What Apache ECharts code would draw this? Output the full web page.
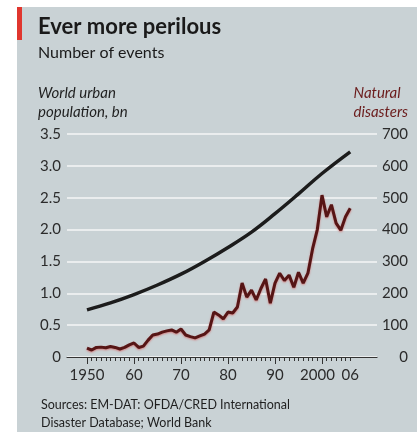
<!DOCTYPE html>
<html>
<head>
<meta charset="utf-8">
<script src="https://cdn.jsdelivr.net/npm/echarts@6/dist/echarts.min.js"></script>
<style>
  html, body { margin: 0; padding: 0; background: #fff; }
  #chart { width: 417px; height: 432px; }
</style>
</head>
<body>
<div id="chart"></div>
<script>
// world urban population, bn
const popYears = [1950, 1955, 1960, 1965, 1970, 1975, 1980, 1985, 1990, 1995, 2000, 2006];
const popValues = [0.74, 0.85, 0.98, 1.13, 1.30, 1.50, 1.72, 1.96, 2.25, 2.56, 2.88, 3.22];

// natural disasters, number of events, one per year 1950-2006
const disasterStart = 1950;
const disasterValues = [
  28, 22, 30, 31, 29, 33, 30, 25, 30, 38,
  44, 30, 34, 53, 69, 72, 78, 82, 85, 78,
  88, 69, 64, 60, 66, 72, 85, 141, 132, 120,
  141, 138, 157, 232, 188, 210, 179, 215, 245, 169,
  232, 263, 240, 257, 219, 266, 232, 263, 340, 400,
  508, 440, 478, 420, 398, 440, 467
];

const tickYears = [];
for (let y = 1950; y <= 2006; y++) tickYears.push(y);
const decadeYears = [1950, 1960, 1970, 1980, 1990, 2000];
const labelYears = [1950, 1960, 1970, 1980, 1990, 2000, 2006];
const yearLabels = ['1950', '60', '70', '80', '90', '2000', '06'];

const font = 'Lato, "Open Sans", sans-serif';
const ink = '#2b2b2b';

const chart = echarts.init(document.getElementById('chart'));

const xMin = 1945.75;
const xMax = 2011.7;

chart.setOption({
  animation: false,
  textStyle: { fontFamily: font },
  graphic: [
    { type: 'rect', shape: { x: 17, y: 7, width: 400, height: 425 }, style: { fill: '#c9d2d5' }, z: -10 },
    { type: 'rect', shape: { x: 17, y: 7, width: 5, height: 33 }, style: { fill: '#e0362e' }, z: -5 },
    { type: 'text', left: 38, top: 16, style: { text: 'Ever more perilous', font: 'bold 22px ' + font, fill: '#1a1a1a' } },
    { type: 'text', left: 38, top: 45, style: { text: 'Number of events', font: '16px ' + font, fill: '#1a1a1a' } },
    { type: 'text', left: 38, top: 84, style: { text: 'World urban\npopulation, bn', font: 'italic 15px ' + font, fill: '#1f1f1f', lineHeight: 19 } },
    { type: 'text', right: 9, top: 84, style: { text: 'Natural\ndisasters', font: 'italic 15px ' + font, fill: '#6b1c1c', lineHeight: 19, align: 'right' } },
    { type: 'text', left: 41, top: 396, style: { text: 'Sources: EM-DAT: OFDA/CRED International\nDisaster Database; World Bank', font: '12.5px ' + font, fill: '#1f1f1f', lineHeight: 18 } }
  ],
  grid: { left: 67, right: 40, top: 134, bottom: 75 },
  xAxis: [
    {
      type: 'value',
      min: xMin,
      max: xMax,
      axisLine: { show: true, onZero: false, lineStyle: { color: '#333', width: 1.2 } },
      axisTick: { show: true, customValues: tickYears, length: 4, lineStyle: { color: '#333' } },
      axisLabel: {
        customValues: labelYears,
        margin: 11,
        fontSize: 15,
        color: ink,
        formatter: (v) => {
          const s = yearLabels[labelYears.indexOf(Math.round(v))] || '';
          return s === '2000' ? '{l|' + s + '}' : s;
        },
        rich: { l: { fontSize: 15, color: ink, padding: [0, 9, 0, 0] } }
      },
      splitLine: { show: false }
    },
    {
      type: 'value',
      position: 'bottom',
      min: xMin,
      max: xMax,
      axisLine: { show: false },
      axisTick: { show: true, customValues: decadeYears, length: 7, lineStyle: { color: '#333' } },
      axisLabel: { show: false },
      splitLine: { show: false }
    }
  ],
  yAxis: [
    {
      type: 'value',
      min: 0,
      max: 3.5,
      interval: 0.5,
      axisLine: { show: false },
      axisTick: { show: false },
      axisLabel: {
        margin: 6,
        fontSize: 15,
        color: ink,
        formatter: (v) => (v === 0 ? '0' : v.toFixed(1))
      },
      splitLine: { show: true, lineStyle: { color: '#f4f6f6', width: 1.5 } }
    },
    {
      type: 'value',
      min: 0,
      max: 700,
      interval: 100,
      axisLine: { show: false },
      axisTick: { show: false },
      axisLabel: { margin: 31, align: 'right', fontSize: 15, color: ink },
      splitLine: { show: false }
    }
  ],
  series: [
    {
      name: 'World urban population',
      type: 'line',
      xAxisIndex: 0,
      yAxisIndex: 0,
      smooth: 0.4,
      showSymbol: false,
      lineStyle: { color: '#1c1c1c', width: 3.5 },
      data: popYears.map((y, i) => [y, popValues[i]]),
      z: 3
    },
    {
      name: 'Natural disasters',
      type: 'line',
      xAxisIndex: 0,
      yAxisIndex: 1,
      showSymbol: false,
      lineStyle: {
        color: '#561515',
        width: 3,
        shadowColor: 'rgba(210,110,110,0.8)',
        shadowBlur: 2,
        shadowOffsetY: 1
      },
      data: disasterValues.map((v, i) => [disasterStart + i, v]),
      z: 4
    }
  ]
});
</script>
</body>
</html>
